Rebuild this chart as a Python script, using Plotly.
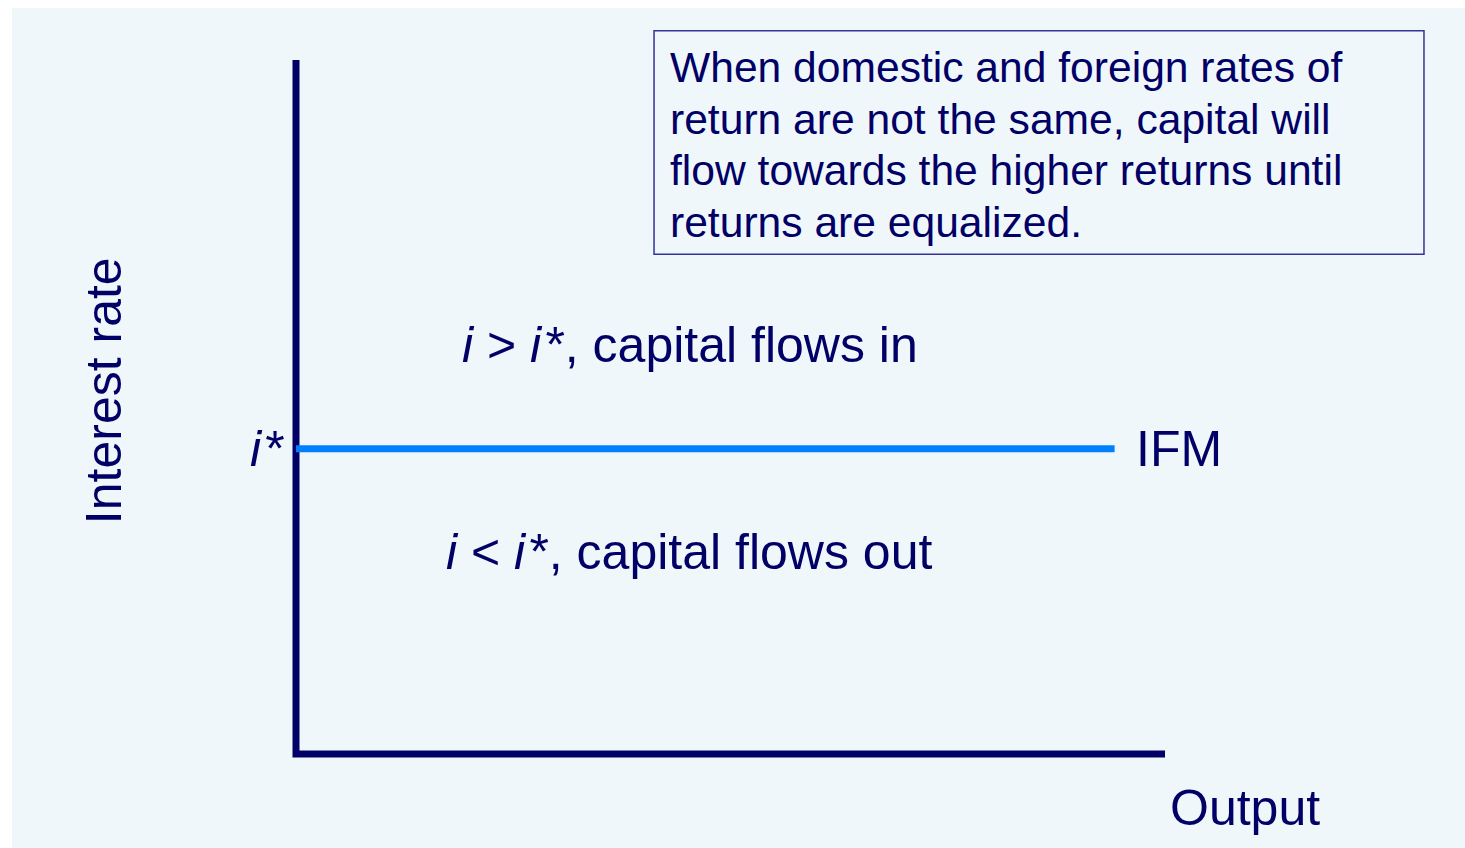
"""IFM curve: capital flows relative to the world interest rate."""
import plotly.graph_objects as go

# Model values (arbitrary units)
output_axis = [0, 10]       # horizontal axis extent
rate_axis = [0, 10]         # vertical axis extent
ifm_output = [0, 9.42]      # IFM line from axis to its end
i_star = 4.4                # world interest rate

box_lines = [
    "When domestic and foreign rates of",
    "return are not the same, capital will",
    "flow towards the higher returns until",
    "returns are equalized.",
]

NAVY = "#000066"
BLUE = "#0080ff"
BG = "#f0f7fa"
FONT = "Arial, Liberation Sans, sans-serif"

fig = go.Figure()

# Axes drawn as one path so the corner joins cleanly
fig.add_trace(go.Scatter(
    x=[output_axis[0], output_axis[0], output_axis[1]],
    y=[rate_axis[1], rate_axis[0], rate_axis[0]],
    mode="lines",
    line=dict(color=NAVY, width=7),
    hoverinfo="skip",
    showlegend=False,
))

# IFM curve
fig.add_trace(go.Scatter(
    x=ifm_output,
    y=[i_star, i_star],
    mode="lines",
    line=dict(color=BLUE, width=7),
    hoverinfo="skip",
    showlegend=False,
))

label_font = dict(family=FONT, size=50, color=NAVY)
gap = "\u200a"  # hair space between italic i and the asterisk

fig.add_annotation(x=1.89, y=5.89, text=f"<i>i</i> > <i>i</i>{gap}*, capital flows in",
                   xanchor="left", yanchor="middle", showarrow=False, font=label_font)
fig.add_annotation(x=1.70, y=2.91, text=f"<i>i</i> < <i>i</i>{gap}*, capital flows out",
                   xanchor="left", yanchor="middle", showarrow=False, font=label_font)
fig.add_annotation(x=ifm_output[1] + 0.22, y=i_star, text="IFM",
                   xanchor="left", yanchor="middle", showarrow=False, font=label_font)
fig.add_annotation(x=-0.10, y=i_star, text=f"<i>i</i>{gap}*",
                   xanchor="right", yanchor="middle", showarrow=False, font=label_font)
fig.add_annotation(x=10.03, y=-0.78, text="Output",
                   xanchor="left", yanchor="middle", showarrow=False, font=label_font)
fig.add_annotation(x=-2.20, y=5.24, text="Interest rate", textangle=-90,
                   xanchor="center", yanchor="middle", showarrow=False, font=label_font)

# Explanatory box
fig.add_shape(type="rect", x0=4.12, x1=12.98, y0=7.20, y1=10.42,
              line=dict(color="#333399", width=1.5), fillcolor=BG, layer="below")
for k, line in enumerate(box_lines):
    fig.add_annotation(x=4.28, y=9.90 - k * 0.745, text=line,
                       xanchor="left", yanchor="middle", showarrow=False,
                       font=dict(family=FONT, size=42.6, color=NAVY))

fig.update_layout(
    width=1465,
    height=848,
    margin=dict(l=12, r=0, t=8, b=0),
    paper_bgcolor="white",
    plot_bgcolor=BG,
    xaxis=dict(range=[-3.268, 13.452], visible=False, fixedrange=True),
    yaxis=dict(range=[-1.354, 10.749], visible=False, fixedrange=True),
    showlegend=False,
)

# drop the page's default body margin so the figure sits at the window corner
fig.write_html(
    "out.html",
    config=dict(displayModeBar=False),
    post_script="document.body.style.margin='0';document.body.style.overflow='hidden';",
)
